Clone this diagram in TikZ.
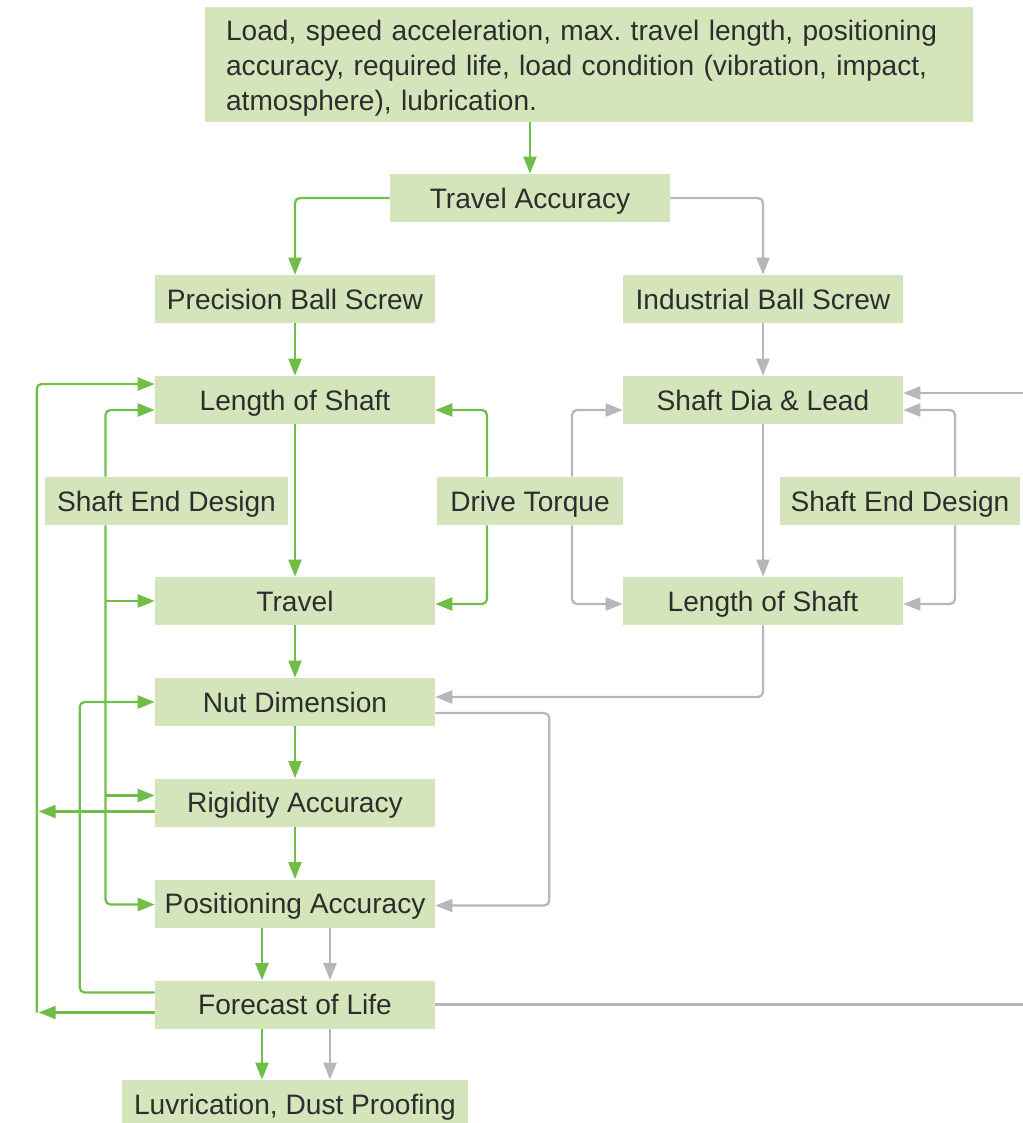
\documentclass[tikz,border=0pt]{standalone}
\usepackage{fontspec}
\setmainfont{Liberation Sans}
\usetikzlibrary{arrows.meta, positioning, calc}
\definecolor{boxgreen}{RGB}{213,229,187}
\definecolor{linegreen}{RGB}{112,190,72}
\definecolor{linegray}{RGB}{183,183,183}
\definecolor{textdark}{RGB}{45,45,45}
\tikzset{
  flowbox/.style={fill=boxgreen, inner sep=0pt, minimum height=0.96cm, minimum width=5.6cm,
                  text height=13pt, text depth=1.6pt,
                  text=textdark, font=\fontsize{16pt}{20pt}\selectfont\frenchspacing},
  greenline/.style={draw=linegreen, line width=0.045cm, rounded corners=0.1cm,
                    -{Triangle[length=0.34cm, width=0.26cm]}},
  grayline/.style={draw=linegray, line width=0.045cm, rounded corners=0.1cm,
                   -{Triangle[length=0.34cm, width=0.26cm]}}
}

\begin{document}
\begin{tikzpicture}[x=0.02cm, y=-0.02cm]
            \useasboundingbox (0,0) rectangle (1023,1123);
            % boxes
            \node[flowbox, minimum width=15.36cm, minimum height=2.3cm, text width=14.52cm,
                  text height=, text depth=, align=left] (input) at (589,64.5) {
                \rule{0pt}{16pt}Load, speed acceleration, max. travel length, positioning\\
                accuracy, required life, load condition (vibration, impact,\\
                atmosphere), lubrication.
            };
            \node[flowbox] (travelacc) at (530,198) {Travel Accuracy};
            \node[flowbox] (precision) at (295,299) {Precision Ball Screw};
            \node[flowbox] (industrial) at (763,299) {Industrial Ball Screw};
            \node[flowbox] (lenshaftL) at (295,400) {Length of Shaft};
            \node[flowbox] (diaLead) at (763,400) {Shaft Dia \& Lead};
            \node[flowbox, minimum width=4.86cm] (endL) at (166.5,501) {Shaft End Design};
            \node[flowbox, minimum width=3.72cm] (torque) at (530,501) {Drive Torque};
            \node[flowbox, minimum width=4.8cm] (endR) at (900,501) {Shaft End Design};
            \node[flowbox] (travel) at (295,601) {Travel};
            \node[flowbox] (lenshaftR) at (763,601) {Length of Shaft};
            \node[flowbox] (nut) at (295,702) {Nut Dimension};
            \node[flowbox] (rigidity) at (295,802.5) {Rigidity Accuracy};
            \node[flowbox] (positioning) at (295,903.5) {Positioning Accuracy};
            \node[flowbox] (forecast) at (295,1004.5) {Forecast of Life};
            \node[flowbox, minimum width=6.92cm] (lube) at (295,1104) {Luvrication, Dust Proofing};

            % free ends on the right edge
            \coordinate (offR) at (1023,393);
            \coordinate (offF) at (1023,1004.5);
            \coordinate (endLfoot) at ($(endL.south)+(-61,0)$);

            % main column
            \draw[greenline] (input.south -| travelacc.north) -- (travelacc.north);
            \draw[greenline] (travelacc.west) -| (precision.north);
            \draw[grayline] (travelacc.east) -| (industrial.north);
            \draw[greenline] (precision) -- (lenshaftL);
            \draw[grayline] (industrial) -- (diaLead);
            \draw[greenline] (lenshaftL) -- (travel);
            \draw[grayline] (diaLead) -- (lenshaftR);
            \draw[greenline] (travel) -- (nut);
            \draw[greenline] (nut) -- (rigidity);
            \draw[greenline] (rigidity) -- (positioning);
            \draw[greenline] ($(positioning.south)+(-33,0)$) -- ($(forecast.north)+(-33,0)$);
            \draw[grayline] ($(positioning.south)+(35,0)$) -- ($(forecast.north)+(35,0)$);
            \draw[greenline] ($(forecast.south)+(-33,0)$) -- ($(lube.north)+(-33,0)$);
            \draw[grayline] ($(forecast.south)+(35,0)$) -- ($(lube.north)+(35,0)$);

            % drive torque
            \draw[greenline] ($(torque.north)+(-43,0)$) |- ($(lenshaftL.east)+(0,10)$);
            \draw[greenline] ($(torque.south)+(-43,0)$) |- ($(travel.east)+(0,3)$);
            \draw[grayline] ($(torque.north)+(42,0)$) |- ($(diaLead.west)+(0,10)$);
            \draw[grayline] ($(torque.south)+(42,0)$) |- ($(lenshaftR.west)+(0,3)$);

            % shaft end design, right
            \draw[grayline] ($(endR.north)+(55,0)$) |- ($(diaLead.east)+(0,10)$);
            \draw[grayline] ($(endR.south)+(55,0)$) |- ($(lenshaftR.east)+(0,3)$);
            \draw[grayline] (offR) -- (offR -| diaLead.east);

            % industrial side back into the column
            \draw[grayline] (lenshaftR.south) |- ($(nut.east)+(0,-5)$);
            \draw[grayline] ($(nut.east)+(0,11)$) -- ++(114,0) |- ($(positioning.east)+(0,2)$);
            \draw[grayline, -] (forecast.east) -- (offF);

            % shaft end design, left
            \draw[greenline] ($(endL.north)+(-61,0)$) |- ($(lenshaftL.west)+(0,10)$);
            \draw[greenline] (endLfoot) |- ($(positioning.west)+(0,1)$);
            \draw[greenline] (endLfoot |- travel.west) -- (travel.west);
            \draw[greenline] ($(rigidity.west)+(-50,-7)$) -- ($(rigidity.west)+(0,-7)$);

            % feedback loops
            \draw[greenline] ($(rigidity.west)+(0,9)$) -- ($(rigidity.west)+(-116,9)$);
            \draw[greenline] ($(forecast.west)+(0,8)$) -- ($(forecast.west)+(-116,8)$);
            \draw[greenline] ($(forecast.west)+(-118,8)$) |- ($(lenshaftL.west)+(0,-16)$);
            \draw[greenline] ($(forecast.west)+(0,-12)$) -- ++(-75,0) |- (nut.west);
        \end{tikzpicture}
\end{document}
